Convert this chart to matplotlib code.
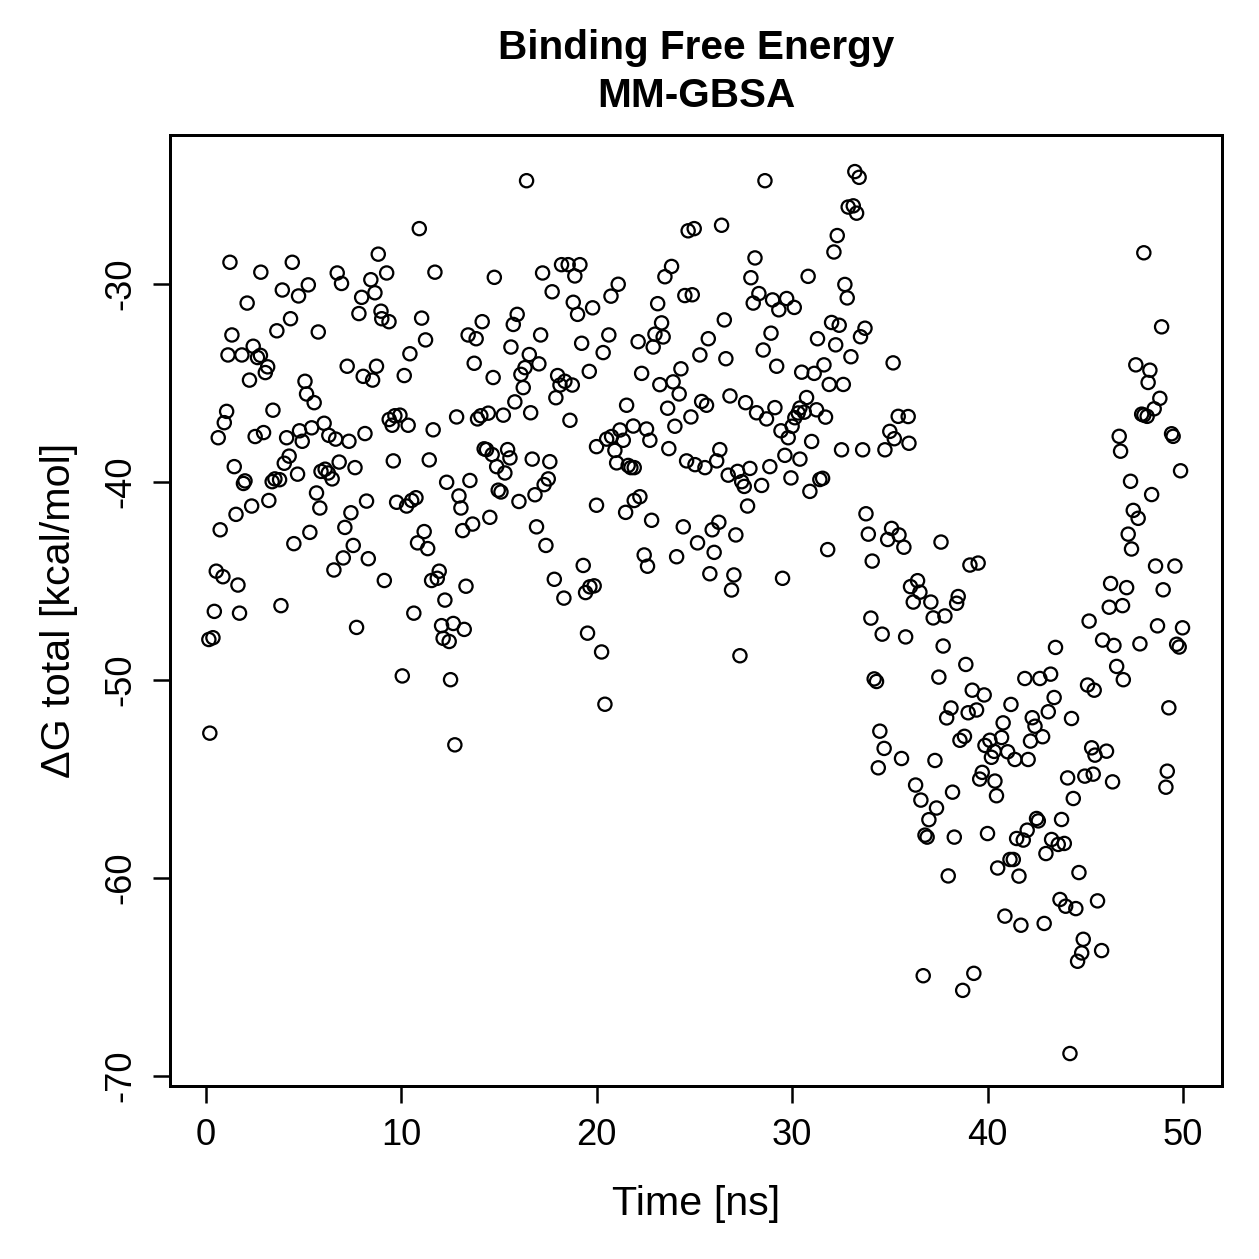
import matplotlib
matplotlib.use("Agg")
import matplotlib.pyplot as plt

plt.rcParams["font.family"] = ["Liberation Sans", "DejaVu Sans"]

# time [ns] and total binding free energy [kcal/mol]
time_ns = [
    1.23, 2.81, 4.42, 3.91, 4.74, 2.11, 4.33, 3.63, 1.33, 2.42, 1.13, 1.84, 2.64, 2.79, 3.16, 3.04, 2.23,
    1.06, 0.94, 3.43, 0.63, 2.52, 2.95, 4.13, 4.26, 4.01, 1.45, 2.00, 1.92, 3.39, 3.53, 3.77, 3.22, 2.34,
    1.54, 0.73, 4.50, 0.53, 0.87, 1.64, 0.43, 1.72, 3.84, 0.15, 0.36, 0.20,
    8.82, 6.72, 6.94, 9.25, 5.24, 8.44, 8.65, 7.97, 7.83, 8.96, 9.00, 9.37, 5.75, 7.23, 8.05, 8.53, 8.73,
    5.07, 5.15, 5.54, 9.38, 9.53, 9.67, 4.79, 4.93, 5.41, 6.05, 6.29, 6.64, 7.32, 8.14, 4.69, 6.82, 7.63,
    5.89, 6.10, 6.26, 6.46, 9.59, 5.66, 5.83, 8.22, 9.76, 7.42, 7.11, 5.32, 7.54, 7.03, 8.31, 6.55, 9.13,
    7.71,
    10.92, 11.72, 14.76, 11.04, 11.24, 14.14, 13.42, 13.83, 10.44, 13.73, 10.15, 14.70, 9.93, 10.35,
    11.63, 12.83, 13.90, 14.07, 14.45, 11.43, 12.32, 13.51, 14.24, 14.36, 14.65, 14.88, 14.96, 10.27,
    10.53, 10.75, 12.95, 13.05, 14.53, 13.14, 13.65, 11.17, 10.83, 11.35, 11.94, 11.55, 11.84, 13.31,
    12.23, 10.64, 12.06, 12.66, 13.22, 12.14, 12.45, 10.05, 12.52, 12.74,
    16.41, 18.20, 18.54, 19.14, 17.23, 18.88, 17.72, 18.80, 19.02, 19.79, 15.93, 15.73, 17.13, 19.23,
    15.61, 16.55, 17.04, 16.33, 16.12, 16.24, 18.00, 18.12, 18.37, 18.75, 17.91, 19.62, 15.81, 15.22,
    16.62, 18.63, 19.99, 15.44, 15.56, 16.70, 17.60, 15.30, 17.52, 17.31, 15.10, 16.84, 16.02, 19.99,
    16.92, 17.40, 19.31, 17.83, 18.32, 19.43, 19.65, 19.87, 19.53,
    24.68, 24.99, 23.83, 23.49, 21.10, 20.73, 24.51, 24.89, 23.12, 23.32, 22.98, 23.40, 22.89, 20.62,
    20.33, 22.12, 22.30, 24.31, 23.91, 23.23, 24.22, 21.53, 23.63, 24.82, 24.00, 20.51, 20.76, 21.19,
    21.36, 21.87, 22.55, 22.72, 20.93, 21.02, 21.61, 21.75, 21.92, 23.69, 24.60, 25.03, 21.48, 21.92,
    22.21, 22.81, 24.43, 25.16, 22.43, 22.60, 24.09, 20.25, 20.42,
    28.61, 26.39, 28.10, 27.89, 28.30, 28.01, 29.00, 29.32, 29.72, 30.11, 26.53, 28.92, 25.71, 25.28,
    26.61, 28.52, 29.21, 25.37, 25.62, 26.82, 27.62, 28.18, 28.69, 29.12, 29.43, 29.80, 30.00, 30.14,
    25.54, 26.14, 26.30, 26.73, 27.21, 27.42, 27.55, 27.84, 28.44, 28.86, 29.63, 29.94, 27.72, 26.25,
    25.91, 26.01, 27.12, 25.79, 27.02, 26.90, 29.51, 27.33,
    33.21, 33.43, 32.87, 33.13, 33.30, 32.31, 32.14, 30.82, 32.70, 32.82, 32.02, 32.41, 33.73, 33.50,
    31.30, 32.23, 33.01, 35.17, 31.63, 30.49, 31.13, 31.90, 32.62, 30.74, 30.40, 30.31, 30.62, 31.25,
    31.71, 35.43, 35.00, 35.23, 34.75, 32.53, 33.61, 31.00, 30.40, 31.42, 31.56, 30.91, 33.78, 33.90,
    35.09, 34.89, 31.82, 34.10, 34.03, 34.61, 34.20, 34.32, 34.49, 34.71, 34.41,
    35.94, 35.98, 35.47, 35.72, 37.62, 39.10, 39.52, 36.42, 36.06, 36.54, 36.20, 37.10, 37.22, 37.82,
    38.42, 38.50, 35.81, 37.73, 38.89, 37.51, 39.22, 39.83, 38.13, 37.91, 39.01, 39.44, 38.59, 38.82,
    39.87, 40.12, 40.34, 40.20, 35.60, 37.31, 39.73, 39.60, 40.38, 40.46, 36.32, 36.59, 38.21, 37.39,
    37.00, 36.80, 36.91, 38.30, 40.00, 40.52, 37.99, 36.71, 39.30, 38.73,
    45.20, 43.48, 41.91, 42.68, 43.23, 45.12, 45.46, 43.41, 41.20, 43.11, 44.30, 42.29, 42.43, 40.80,
    40.72, 42.82, 42.20, 41.03, 41.40, 42.08, 45.33, 45.50, 44.10, 44.98, 45.41, 44.39, 42.51, 42.60,
    43.79, 42.03, 41.49, 41.83, 43.28, 43.62, 43.93, 42.99, 41.15, 41.32, 41.61, 44.68, 43.71, 44.00,
    44.52, 45.63, 40.89, 41.71, 42.90, 44.90, 44.82, 44.61, 44.22,
    48.00, 48.91, 47.59, 48.31, 48.22, 48.82, 48.53, 47.89, 48.00, 48.17, 49.42, 49.50, 46.74, 46.81,
    49.88, 47.32, 48.40, 47.46, 47.71, 47.20, 47.37, 48.60, 49.59, 48.99, 46.30, 47.12, 46.23, 46.91,
    45.89, 46.47, 47.80, 48.70, 49.98, 49.68, 49.81, 46.61, 46.95, 49.28, 46.09, 46.40, 49.20, 49.13,
    45.84,
]

dg_total = [
    -28.90, -29.40, -28.90, -30.30, -30.60, -30.96, -31.75, -32.36, -32.57, -33.14, -33.58, -33.58, -33.71,
    -33.60, -34.18, -34.47, -34.85, -36.43, -37.00, -36.37, -37.76, -37.70, -37.50, -37.76, -38.69, -39.05,
    -39.22, -39.94, -40.07, -39.98, -39.84, -39.88, -40.93, -41.21, -41.63, -42.41, -43.11, -44.50, -44.78,
    -45.20, -46.53, -46.62, -46.24, -47.95, -47.86, -52.68,
    -28.49, -29.44, -29.97, -29.44, -30.04, -29.78, -30.44, -30.67, -31.49, -31.37, -31.75, -31.90, -32.42,
    -34.15, -34.66, -34.85, -34.15, -34.91, -35.55, -35.99, -36.84, -37.13, -36.65, -37.41, -37.94, -37.26,
    -37.03, -37.64, -37.83, -37.94, -37.55, -39.60, -38.99, -39.27, -39.46, -39.35, -39.54, -39.84, -38.93,
    -40.55, -41.31, -40.96, -41.02, -41.55, -42.29, -42.54, -43.20, -43.83, -43.87, -44.44, -44.97, -47.34,
    -27.20, -29.40, -29.66, -31.72, -32.82, -31.90, -32.57, -32.76, -33.52, -34.00, -34.62, -34.72, -36.62,
    -37.13, -37.36, -36.71, -36.81, -36.65, -36.52, -38.88, -40.01, -39.92, -38.32, -38.36, -38.61, -39.22,
    -40.41, -41.21, -40.93, -40.79, -40.70, -41.31, -41.78, -42.45, -42.12, -42.50, -43.07, -43.36, -44.50,
    -44.97, -44.86, -45.26, -45.96, -46.62, -47.25, -47.14, -47.44, -47.89, -48.05, -49.79, -49.98, -53.27,
    -24.78, -29.02, -29.02, -29.02, -29.44, -29.59, -30.39, -30.92, -31.53, -31.20, -31.53, -32.04, -32.57,
    -32.99, -33.18, -33.56, -34.03, -34.22, -34.56, -35.23, -34.62, -35.10, -34.91, -35.10, -35.74, -34.41,
    -35.95, -36.62, -36.50, -36.88, -38.21, -38.36, -38.78, -38.84, -38.97, -39.54, -39.84, -40.13, -40.50,
    -40.64, -40.98, -41.17, -42.26, -43.20, -44.21, -44.91, -45.86, -45.58, -45.29, -45.24, -47.63,
    -27.31, -27.20, -29.11, -29.63, -30.01, -30.61, -30.58, -30.54, -30.99, -31.96, -32.53, -32.67, -33.18,
    -32.57, -33.46, -32.91, -34.51, -34.28, -34.94, -35.08, -35.55, -36.12, -36.27, -36.71, -37.18, -37.83,
    -37.70, -37.37, -37.89, -37.17, -37.32, -37.89, -38.40, -39.03, -39.16, -39.27, -39.27, -38.31, -38.93,
    -39.12, -41.53, -40.93, -40.74, -41.93, -42.26, -43.07, -43.68, -44.25, -43.77, -48.58, -51.22,
    -24.78, -27.03, -28.68, -29.68, -30.48, -30.96, -30.80, -31.30, -30.73, -31.18, -31.81, -32.48, -32.76,
    -33.58, -33.77, -33.33, -34.15, -35.93, -36.12, -35.65, -35.99, -36.50, -36.81, -36.24, -37.41, -37.76,
    -37.18, -36.75, -39.27, -38.93, -38.36, -39.65, -39.46, -39.98, -40.22, -39.31, -40.17, -39.22, -38.65,
    -39.79, -41.21, -42.03, -42.41, -43.55, -42.67, -44.63, -44.69, -45.45, -44.86, -48.77,
    -24.32, -24.61, -26.11, -26.05, -26.42, -27.55, -28.38, -29.61, -30.02, -30.70, -31.94, -32.08, -32.23,
    -32.66, -32.76, -33.07, -33.67, -33.98, -34.08, -34.45, -34.51, -35.07, -35.07, -35.73, -36.26, -36.51,
    -36.47, -36.35, -36.72, -36.68, -37.44, -37.81, -38.37, -38.37, -38.37, -37.95, -38.84, -39.87, -39.81,
    -40.47, -41.60, -42.63, -42.34, -42.90, -43.41, -43.99, -46.87, -47.68, -49.94, -50.07, -52.58, -53.45,
    -54.43,
    -36.69, -38.04, -42.67, -43.29, -43.03, -44.19, -44.09, -44.98, -45.28, -45.56, -46.06, -46.06, -46.86,
    -46.76, -46.12, -45.78, -47.82, -48.28, -49.21, -49.85, -50.51, -50.75, -51.41, -51.91, -51.65, -51.51,
    -53.04, -52.84, -53.30, -53.04, -53.60, -53.90, -53.96, -54.06, -54.66, -55.00, -55.10, -55.84, -55.30,
    -56.06, -55.66, -56.46, -57.05, -57.83, -57.93, -57.93, -57.75, -59.49, -59.89, -64.93, -64.81, -65.67,
    -47.02, -48.35, -49.92, -49.92, -49.70, -50.25, -50.51, -50.88, -51.23, -51.60, -51.94, -51.90, -52.33,
    -52.16, -52.90, -52.86, -53.08, -53.62, -54.01, -54.01, -53.42, -53.79, -54.94, -54.85, -54.75, -55.98,
    -56.99, -57.11, -57.04, -57.58, -58.00, -58.08, -58.05, -58.30, -58.25, -58.76, -59.06, -59.06, -59.90,
    -59.72, -61.08, -61.42, -61.54, -61.15, -61.92, -62.38, -62.29, -63.09, -63.78, -64.20, -68.86,
    -28.42, -32.16, -34.08, -34.35, -34.97, -35.77, -36.30, -36.57, -36.62, -36.68, -37.56, -37.69, -37.69,
    -38.44, -39.43, -39.96, -40.63, -41.43, -41.83, -42.63, -43.38, -44.24, -44.24, -45.44, -45.12, -45.33,
    -46.32, -46.24, -47.98, -48.25, -48.17, -47.26, -47.36, -48.19, -48.33, -49.31, -49.98, -51.40, -53.59,
    -55.14, -54.60, -55.41, -63.66,
]

x_ticks = [0, 10, 20, 30, 40, 50]
y_ticks = [-70, -60, -50, -40, -30]

fig = plt.figure(figsize=(1259 / 180, 1259 / 180), dpi=180)
ax = fig.add_axes([0.135, 0.1374, 0.8356, 0.7554])

ax.scatter(time_ns, dg_total, s=28, facecolors="none", edgecolors="black", linewidths=0.9)

ax.set_xlim(-1.84, 52.0)
ax.set_ylim(-70.5, -22.47)
ax.set_xticks(x_ticks)
ax.set_yticks(y_ticks)
ax.set_yticklabels([str(v) for v in y_ticks], rotation=90, va="center")

for sp in ax.spines.values():
    sp.set_linewidth(1.2)
ax.tick_params(direction="out", length=6.8, width=1.0, labelsize=14.5, pad=6.0,
               top=False, right=False)

ax.set_xlabel("Time [ns]", fontsize=16.5)
ax.set_ylabel("\u0394G total [kcal/mol]", fontsize=16.5)
ax.xaxis.set_label_coords(0.5, -0.104)
ax.yaxis.set_label_coords(-0.087, 0.5)

ax.set_title("Binding Free Energy\nMM-GBSA", fontsize=16.2, fontweight="bold",
             linespacing=1.35, pad=11)

plt.savefig("out.png", dpi=180)
plt.close()
